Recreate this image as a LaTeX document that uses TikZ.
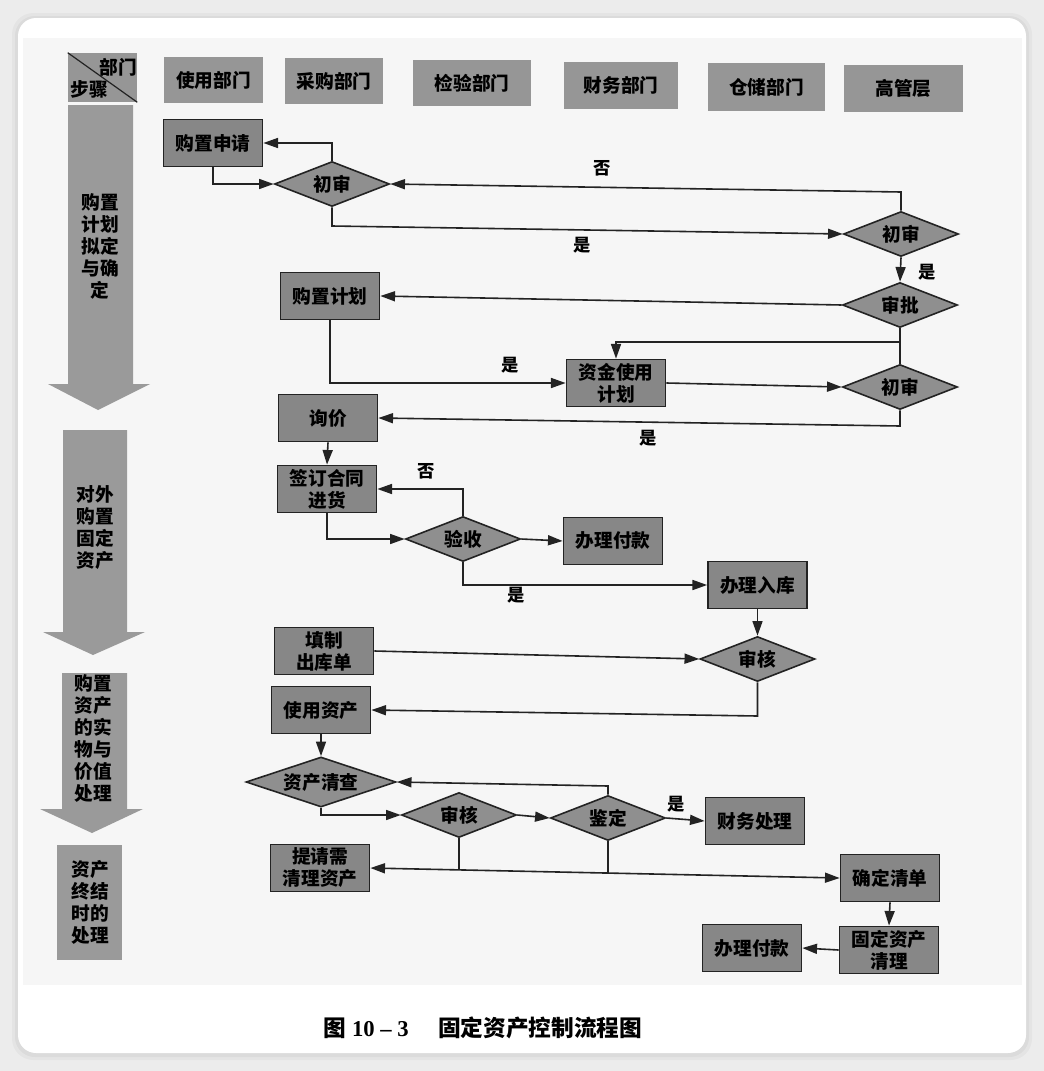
\documentclass[tikz,border=0pt]{standalone}
\usepackage{fontspec}
\newfontfamily\cjk{Noto Sans CJK SC}
\newfontfamily\serifnum{Liberation Serif}
\usetikzlibrary{shapes.geometric,arrows.meta}
\definecolor{boxgray}{RGB}{135,135,135}
\definecolor{diagray}{RGB}{143,143,143}
\definecolor{hdrgray}{RGB}{150,150,150}
\definecolor{arrgray}{RGB}{154,154,154}
\definecolor{linecol}{RGB}{35,35,35}
\definecolor{outergray}{RGB}{236,236,236}
\definecolor{scanbg}{RGB}{246,246,246}
\newcommand\myNodeFont{\cjk\bfseries\fontsize{14pt}{16.5pt}\selectfont}
\newcommand\myLblFont{\cjk\bfseries\fontsize{13pt}{15pt}\selectfont}
\newcommand\myCapFont{\cjk\bfseries\fontsize{17pt}{20pt}\selectfont}
\begin{document}
\begin{tikzpicture}[x=0.75pt,y=-0.75pt,
  box/.style={draw=linecol, line width=1.3pt, fill=boxgray, minimum width=74.25pt, minimum height=35.25pt, inner sep=0pt, align=center, font=\myNodeFont},
  dia/.style={diamond, aspect=3, draw=linecol, line width=1.2pt, fill=diagray, minimum width=86.25pt, minimum height=33.75pt, inner sep=0pt, font=\myNodeFont},
  hdr/.style={fill=hdrgray, inner sep=0pt, font=\myNodeFont},
  stxt/.style={inner sep=0pt, align=center, font=\myNodeFont},
  lbl/.style={inner sep=0pt, font=\myLblFont},
  ln/.style={draw=linecol, line width=1.2pt},
  conn/.style={draw=linecol, line width=1.2pt, -{Triangle[length=11pt,width=7.5pt]}},
  biconn/.style={draw=linecol, line width=1.2pt, {Triangle[length=11pt,width=7.5pt]}-{Triangle[length=11pt,width=7.5pt]}}
]
\useasboundingbox (0,0) rectangle (1044,1071);
% page background and card
\fill[outergray] (0,0) rectangle (1044,1071);
\fill[black,opacity=0.03,rounded corners=16pt] (12,13) rectangle (1032,1060);
\fill[black,opacity=0.04,rounded corners=15pt] (15,16) rectangle (1029,1057);
\fill[white,rounded corners=13.5pt] (18,18) rectangle (1026,1053);
\fill[scanbg] (23,38) rectangle (1022,985);

% left column stage arrows
\fill[arrgray] (68,105) -- (133,105) -- (133,384) -- (150,384) -- (98,410) -- (48,384) -- (68,384) -- cycle;
\fill[arrgray] (63,430) -- (127,430) -- (127,632) -- (145,632) -- (93,655) -- (43,632) -- (63,632) -- cycle;
\fill[arrgray] (62,673) -- (127,673) -- (127,809) -- (143,809) -- (92,833) -- (40,809) -- (62,809) -- cycle;
\fill[arrgray] (57,845) rectangle (122,960);
\node[stxt] (s1) at (100,246) {购置\\计划\\拟定\\与确\\定};
\node[stxt] (s2) at (95,528) {对外\\购置\\固定\\资产};
\node[stxt] (s3) at (93,738) {购置\\资产\\的实\\物与\\价值\\处理};
\node[stxt] (s4) at (90,902) {资产\\终结\\时的\\处理};

% header row
\node[hdr, minimum width=51.75pt, minimum height=36.75pt] (H0) at (102.5,77.5) {};
\draw[ln, line width=0.9pt] (H0.north west) -- (H0.south east);
\node[stxt] (H0a) at (118,67) {部门};
\node[stxt] (H0b) at (89,89) {步骤};
\node[hdr, minimum width=74.25pt, minimum height=34.5pt] (H1) at (213.5,80) {使用部门};
\node[hdr, minimum width=73.5pt, minimum height=34.5pt] (H2) at (334,81) {采购部门};
\node[hdr, minimum width=88.5pt, minimum height=34.5pt] (H3) at (472,83) {检验部门};
\node[hdr, minimum width=85.5pt, minimum height=35.25pt] (H4) at (621,85.5) {财务部门};
\node[hdr, minimum width=87.75pt, minimum height=36pt] (H5) at (766.5,87) {仓储部门};
\node[hdr, minimum width=89.25pt, minimum height=35.25pt] (H6) at (903.5,88.5) {高管层};

% flow nodes
\node[box] (N1) at (213,143) {购置申请};
\node[dia] (D1) at (332,184) {初审};
\node[dia] (D2) at (901,234) {初审};
\node[dia] (D3) at (900,305) {审批};
\node[box] (N2) at (330,296) {购置计划};
\node[box] (N3) at (616,383) {资金使用\\计划};
\node[dia] (D4) at (900,387) {初审};
\node[box] (N4) at (328,418) {询价};
\node[box] (N5) at (327,489) {签订合同\\进货};
\node[dia] (D5) at (463,539) {验收};
\node[box] (N6) at (613,541) {办理付款};
\node[box] (N7) at (757.5,585) {办理入库};
\node[dia] (D6) at (757.5,659) {审核};
\node[box] (N8) at (324,651) {填制\\出库单};
\node[box] (N9) at (321,710) {使用资产};
\node[dia, minimum width=112.5pt, minimum height=37.5pt] (D7) at (321,782) {资产清查};
\node[dia] (D8) at (459,815) {审核};
\node[dia] (D9) at (608,818) {鉴定};
\node[box] (N10) at (755,821) {财务处理};
\node[box] (N11) at (320,868) {提请需\\清理资产};
\node[box] (N12) at (890,878) {确定清单};
\node[box] (N13) at (889,950) {固定资产\\清理};
\node[box] (N14) at (752,948) {办理付款};

% connectors
\draw[conn] (N1.south) |- (D1.west);
\draw[conn] (D1.north) |- (N1.east);
\draw[conn] (D1.south) -- (332,226) -- (D2.west);
\draw[conn] (D2.north) -- (901,192) -- (D1.east);
\draw[conn] (D2.south) -- (D3.north);
\draw[conn] (D3.west) -- (N2.east);
\draw[conn] (N2.south) |- (N3.west);
\draw[ln] (D3.south) -- (D4.north);
\coordinate (J1) at (900,342);
\draw[conn] (J1) -| (N3.north);
\draw[conn] (N3.east) -- (D4.west);
\draw[conn] (D4.south) -- (900,426) -- (N4.east);
\draw[conn] (N4.south) -- (N5.north);
\draw[conn] (N5.south) |- (D5.west);
\draw[conn] (D5.north) |- (N5.east);
\draw[conn] (D5.east) -- (N6.west);
\draw[conn] (D5.south) |- (N7.west);
\draw[conn] (N7.south) -- (D6.north);
\draw[conn] (N8.east) -- (D6.west);
\draw[conn] (D6.south) -- (757.5,716) -- (N9.east);
\draw[conn] (N9.south) -- (D7.north);
\draw[conn] (D7.south) |- (D8.west);
\draw[conn] (D8.east) -- (D9.west);
\draw[conn] (D9.north) -- (608,786) -- (D7.east);
\draw[conn] (D9.east) -- (N10.west);
\draw[biconn] (N11.east) -- (N12.west);
\coordinate (B1) at (459,870);
\coordinate (B2) at (608,873);
\draw[ln] (D8.south) -- (B1);
\draw[ln] (D9.south) -- (B2);
\draw[conn] (N12.south) -- (N13.north);
\draw[conn] (N13.west) -- (N14.east);

% labels
\node[lbl] (L1) at (602,168) {否};
\node[lbl] (L2) at (582,245) {是};
\node[lbl] (L3) at (927,272) {是};
\node[lbl] (L4) at (510,365) {是};
\node[lbl] (L5) at (648,438) {是};
\node[lbl] (L6) at (426,471) {否};
\node[lbl] (L7) at (516,595) {是};
\node[lbl] (L8) at (676,804) {是};

% caption
\node[inner sep=0pt, font=\myCapFont] (cap) at (483,1028) {图\hspace{0.25em}{\serifnum\bfseries 10 – 3}\hspace{1.3em}固定资产控制流程图};
\end{tikzpicture}
\end{document}
